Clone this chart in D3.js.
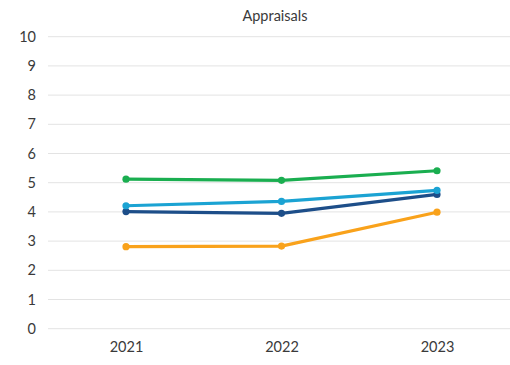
<!DOCTYPE html>
<html>
<head>
<meta charset="utf-8">
<script src="https://cdn.jsdelivr.net/npm/d3@7"></script>
<style>
  html, body { margin: 0; padding: 0; background: #fff; }
  svg { display: block; }
</style>
</head>
<body>
<svg id="chart" width="510" height="365"></svg>
<script>
// Appraisal scores by year, one line per series
const years = ["2021", "2022", "2023"];
const seriesGreen = [5.12, 5.08, 5.41];
const seriesLightBlue = [4.21, 4.36, 4.74];
const seriesDarkBlue = [4.01, 3.95, 4.60];
const seriesOrange = [2.81, 2.83, 3.99];
const yTicks = [0, 1, 2, 3, 4, 5, 6, 7, 8, 9, 10];

const series = [
  { values: seriesOrange, color: "#F9A21B" },
  { values: seriesDarkBlue, color: "#1D4E89" },
  { values: seriesLightBlue, color: "#1BA3D3" },
  { values: seriesGreen, color: "#1AAE50" }
];

const svg = d3.select("#chart");
const font = "Lato, 'Open Sans', sans-serif";

const x = d3.scalePoint().domain(years).range([126, 437]);
const y = d3.scaleLinear().domain([0, 10]).range([328.7, 36.7]);

// Horizontal gridlines
svg.append("g")
  .selectAll("line")
  .data(yTicks)
  .join("line")
  .attr("x1", 48).attr("x2", 510)
  .attr("y1", d => y(d)).attr("y2", d => y(d))
  .attr("stroke", "#e3e3e3").attr("stroke-width", 1);

// Y axis labels
const yAxis = svg.append("g")
  .attr("transform", "translate(36,0)")
  .call(d3.axisLeft(y).tickValues(yTicks).tickSize(0).tickPadding(0).tickFormat(d3.format("d")));
yAxis.select(".domain").remove();
yAxis.selectAll("text")
  .attr("fill", "#3a3a3a")
  .style("font-family", font)
  .style("font-size", "14.5px");

// X axis labels
const xAxis = svg.append("g")
  .attr("transform", "translate(0,342)")
  .call(d3.axisBottom(x).tickSize(0).tickPadding(0));
xAxis.select(".domain").remove();
xAxis.selectAll("text")
  .attr("fill", "#3a3a3a")
  .style("font-family", font)
  .style("font-size", "14.5px");

// Title
svg.append("text")
  .attr("x", 275).attr("y", 21)
  .attr("text-anchor", "middle")
  .attr("fill", "#3a3a3a")
  .style("font-family", font)
  .style("font-size", "14.5px")
  .text("Appraisals");

// Lines and markers
const line = d3.line()
  .x((d, i) => x(years[i]))
  .y(d => y(d));

series.forEach(s => {
  svg.append("path")
    .datum(s.values)
    .attr("d", line)
    .attr("fill", "none")
    .attr("stroke", s.color)
    .attr("stroke-width", 3.2)
    .attr("stroke-linejoin", "round")
    .attr("stroke-linecap", "round");
  svg.append("g")
    .selectAll("circle")
    .data(s.values)
    .join("circle")
    .attr("cx", (d, i) => x(years[i]))
    .attr("cy", d => y(d))
    .attr("r", 3.6)
    .attr("fill", s.color);
});
</script>
</body>
</html>
